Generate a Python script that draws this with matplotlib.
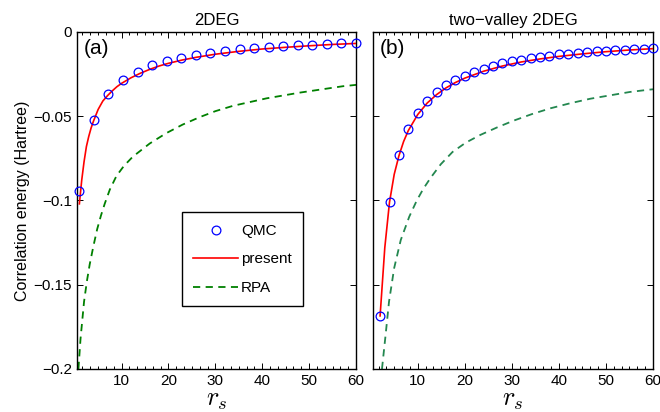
import numpy as np
import matplotlib.pyplot as plt
from matplotlib.ticker import AutoMinorLocator

plt.rcParams['font.family'] = ['Liberation Sans', 'DejaVu Sans']
plt.rcParams['mathtext.fontset'] = 'cm'

# ---- panel (a): 2DEG ----
rs_qmc_a = np.linspace(1, 60, 20)
ec_qmc_a = [-0.0941, -0.0522, -0.0370, -0.0285, -0.0235, -0.0198, -0.0170,
            -0.0152, -0.0136, -0.0123, -0.0113, -0.0103, -0.0097, -0.0091,
            -0.0085, -0.0079, -0.0075, -0.0071, -0.0066, -0.0063]

rs_fit_a = [1, 1.5, 2, 2.5, 3, 3.5, 4, 5, 6, 7, 8, 9, 10, 12, 14, 16, 18, 20,
            23, 26, 30, 35, 40, 45, 50, 55, 60]
ec_fit_a = [-0.102, -0.088, -0.077, -0.068, -0.062, -0.057, -0.053, -0.046,
            -0.041, -0.0378, -0.035, -0.0325, -0.0305, -0.0272, -0.0245,
            -0.0222, -0.0202, -0.0186, -0.0166, -0.0150, -0.0132, -0.0115,
            -0.0101, -0.0091, -0.0082, -0.0074, -0.0068]

rs_rpa_a = [0.8, 1.25, 2.0, 2.6, 3.2, 4.0, 4.8, 5.6, 6.4, 7.5, 8.9, 10.5,
            12.4, 16, 19.5, 23, 26.7, 30, 33.8, 40.9, 48, 57.2, 60]
ec_rpa_a = [-0.200, -0.182, -0.160, -0.148, -0.138, -0.127, -0.117, -0.109,
            -0.102, -0.0935, -0.0855, -0.0795, -0.0740, -0.0662, -0.0601,
            -0.0550, -0.0505, -0.0470, -0.0438, -0.0394, -0.0360, -0.0322,
            -0.0314]

# ---- panel (b): two-valley 2DEG ----
rs_qmc_b = np.arange(2, 61, 2)
ec_qmc_b = [-0.1685, -0.1007, -0.0730, -0.0577, -0.0479, -0.0408, -0.0358,
            -0.0316, -0.0285, -0.0259, -0.0237, -0.0218, -0.0202, -0.0186,
            -0.0174, -0.0166, -0.0156, -0.0148, -0.0141, -0.0132, -0.0129,
            -0.0123, -0.0119, -0.0115, -0.0111, -0.0109, -0.0105, -0.0103,
            -0.0099, -0.0097]

rs_fit_b = [2, 3, 4, 5, 6, 7, 8, 10, 12, 14, 16, 18, 20, 24, 28, 32, 36, 40,
            45, 50, 55, 60]
ec_fit_b = [-0.1685, -0.128, -0.101, -0.0845, -0.0735, -0.065, -0.0585,
            -0.0490, -0.0422, -0.0372, -0.0332, -0.0300, -0.0274, -0.0233,
            -0.0202, -0.0178, -0.0160, -0.0145, -0.0130, -0.0117, -0.0107,
            -0.0099]

rs_rpa_b = [2.4, 3.2, 3.9, 5.0, 6.4, 8.2, 9.8, 11.2, 12.75, 14.9, 17.4, 20.2,
            23.3, 26.9, 30.4, 34.3, 38.2, 42.4, 46.7, 50.9, 55.1, 58.7, 60]
ec_rpa_b = [-0.200, -0.179, -0.160, -0.140, -0.1234, -0.1096, -0.1000,
            -0.0930, -0.0865, -0.0785, -0.0712, -0.0657, -0.0611, -0.0566,
            -0.0526, -0.0487, -0.0453, -0.0423, -0.0396, -0.0376, -0.0356,
            -0.0344, -0.0340]

xticks = [10, 20, 30, 40, 50, 60]
yticks = [-0.2, -0.15, -0.1, -0.05, 0]
ytick_labels = ['\u22120.2', '\u22120.15', '\u22120.1', '\u22120.05', '0']

fig = plt.figure(figsize=(6.6, 4.12), dpi=100)
ax1 = fig.add_axes([0.1167, 0.1044, 0.4227, 0.818])
ax2 = fig.add_axes([0.5652, 0.1044, 0.4242, 0.818])

panels = [
    (ax1, rs_qmc_a, ec_qmc_a, rs_fit_a, ec_fit_a, rs_rpa_a, ec_rpa_a,
     '#008000', '2DEG', '(a)'),
    (ax2, rs_qmc_b, ec_qmc_b, rs_fit_b, ec_fit_b, rs_rpa_b, ec_rpa_b,
     '#23874f', 'two\u2212valley 2DEG', '(b)'),
]

for ax, rq, eq, rf, ef, rr, er, gcol, title, tag in panels:
    ax.plot(rr, er, color=gcol, lw=1.3, ls=(0, (4, 3)), label='RPA', zorder=2)
    ax.plot(rf, ef, color='red', lw=1.2, label='present', zorder=3)
    ax.plot(rq, eq, 'o', ms=6.3, mfc='none', mec='blue', mew=0.9,
            label='QMC', zorder=4, clip_on=False)

    ax.set_xlim(0.5, 60)
    ax.set_ylim(-0.2, 0)
    ax.set_xticks(xticks)
    ax.set_yticks(yticks)
    ax.xaxis.set_minor_locator(AutoMinorLocator(6))
    ax.tick_params(which='both', direction='in', top=True, right=True,
                   labelsize=11, width=0.7)
    ax.tick_params(which='major', length=4, pad=3.5)
    ax.tick_params(which='minor', length=2)
    for sp in ax.spines.values():
        sp.set_linewidth(1.0)

    ax.set_title(title, fontsize=12, pad=5)
    ax.set_xlabel(r'$r_s$', fontsize=19, labelpad=0)
    ax.text(0.025, 0.951, tag, transform=ax.transAxes, fontsize=15,
            ha='left', va='center')

ax1.set_yticklabels(ytick_labels)
ax2.set_yticklabels([])
ax1.set_ylabel('Correlation energy (Hartree)', fontsize=11.5)
ax1.yaxis.set_label_coords(-0.17, 0.5)

h, l = ax1.get_legend_handles_labels()
order = [2, 1, 0]
leg = ax1.legend([h[i] for i in order], [l[i] for i in order],
                 loc='center', bbox_to_anchor=(0.593, 0.325), fontsize=11,
                 handlelength=2.9, labelspacing=0.95, borderpad=0.75,
                 handletextpad=0.2, fancybox=False, framealpha=1,
                 edgecolor='black', numpoints=1)
leg.get_frame().set_linewidth(1.0)

fig.savefig('out.png', dpi=100)
